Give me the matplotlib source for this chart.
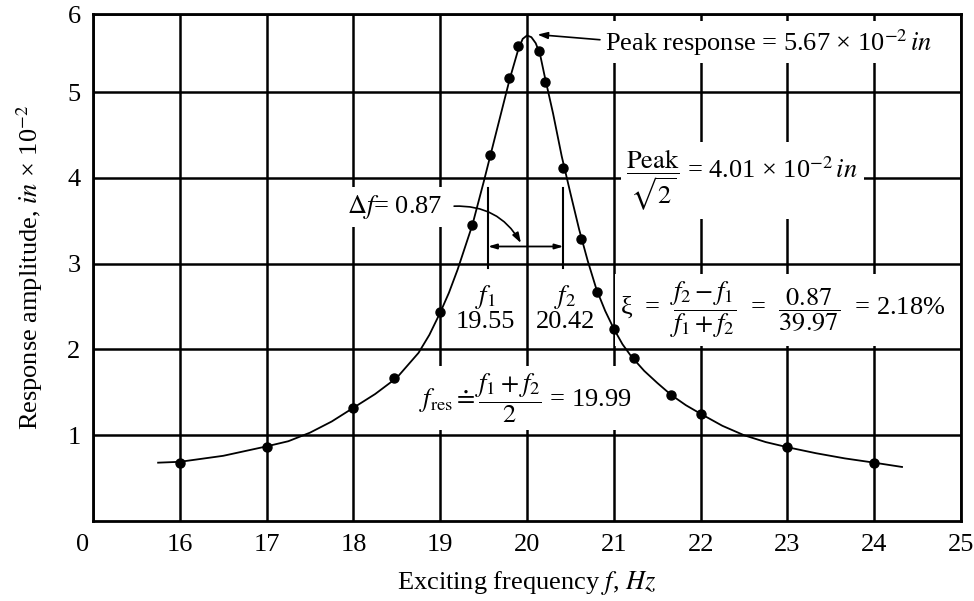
import matplotlib
matplotlib.use("Agg")
import matplotlib.pyplot as plt
from matplotlib.transforms import ScaledTranslation

plt.rcParams["font.family"] = ["Liberation Serif", "DejaVu Serif"]
plt.rcParams["mathtext.fontset"] = "stix"

# measured points (Hz, amplitude in 1e-2 in)
freq = [16.0, 17.0, 18.0, 18.47, 19.0, 19.37, 19.57, 19.79, 19.9, 20.14,
        20.21, 20.42, 20.62, 20.81, 21.0, 21.23, 21.66, 22.0, 23.0, 24.0]
amp = [0.68, 0.86, 1.32, 1.67, 2.44, 3.45, 4.27, 5.16, 5.54, 5.48,
       5.12, 4.11, 3.29, 2.67, 2.24, 1.90, 1.47, 1.25, 0.86, 0.68]

# hand-faired response curve through the points
curve_f = [15.75, 16.0, 16.5, 17.0, 17.25, 17.5, 17.75, 18.0, 18.25, 18.5,
           18.75, 18.875, 19.0, 19.1, 19.2, 19.37, 19.5, 19.6, 19.7, 19.8,
           19.9, 19.95, 20.0, 20.05, 20.1, 20.15, 20.2, 20.3, 20.4, 20.5,
           20.6, 20.7, 20.8, 20.9, 21.0, 21.1, 21.2, 21.35, 21.5, 21.66,
           21.83, 22.0, 22.25, 22.5, 22.75, 23.0, 23.33, 23.66, 24.0, 24.32]
curve_a = [0.68, 0.69, 0.76, 0.87, 0.93, 1.03, 1.16, 1.32, 1.48, 1.67,
           1.96, 2.17, 2.43, 2.66, 2.93, 3.45, 3.95, 4.35, 4.75, 5.15,
           5.5, 5.62, 5.66, 5.64, 5.57, 5.44, 5.2, 4.75, 4.25, 3.82,
           3.4, 3.03, 2.7, 2.45, 2.24, 2.06, 1.92, 1.75, 1.61, 1.47,
           1.35, 1.25, 1.11, 1.0, 0.92, 0.86, 0.79, 0.73, 0.68, 0.63]

f1, f2 = 19.55, 20.42

xticks = [15, 16, 17, 18, 19, 20, 21, 22, 23, 24, 25]
xlabels = ["0", "16", "17", "18", "19", "20", "21", "22", "23", "24", "25"]
yticks = [1, 2, 3, 4, 5, 5.91]
ylabels = ["1", "2", "3", "4", "5", "6"]

fs = 19

fig = plt.figure(figsize=(9.74, 6.01), dpi=100)
ax = fig.add_axes([0.0955, 0.1331, 0.8912, 0.8436])
ax.set_xlim(15, 25)
ax.set_ylim(0, 5.91)

ax.set_xticks(xticks)
ax.set_xticklabels(xlabels)
ax.set_yticks(yticks)
ax.set_yticklabels(ylabels)
ax.tick_params(length=0, labelsize=fs, pad=9)
# the broken-axis "0" sits a little left of the corner
lab0 = ax.get_xticklabels()[0]
lab0.set_transform(lab0.get_transform() + ScaledTranslation(-0.1, 0, fig.dpi_scale_trans))

ax.grid(True, color="black", lw=1.8)
ax.set_axisbelow(True)
for s in ax.spines.values():
    s.set_linewidth(2)

ax.set_xlabel("Exciting frequency $f$, $Hz$", fontsize=fs, labelpad=10)
ax.set_ylabel("Response amplitude, $in$ × 10$^{-2}$", fontsize=fs, labelpad=16)

ax.plot(curve_f, curve_a, color="black", lw=1.3, zorder=4)
ax.plot(freq, amp, "o", color="black", ms=6.5, zorder=5)

box = dict(facecolor="white", edgecolor="none", pad=4)

ax.text(20.90, 5.58, "Peak response = 5.67 × 10$^{-2}$$\\,in$", fontsize=fs,
        ha="left", va="center", bbox=box, zorder=3)
ax.annotate("", xy=(20.12, 5.67), xytext=(20.84, 5.61),
            arrowprops=dict(arrowstyle="-|>,head_length=0.6,head_width=0.2",
                            color="black", lw=1.2, shrinkA=0, shrinkB=0), zorder=6)

ax.text(22.48, 3.97, "$\\dfrac{\\mathrm{Peak}}{\\sqrt{2}}$ = 4.01 × 10$^{-2}$$\\,in$",
        fontsize=fs, ha="center", va="center", bbox=box, zorder=3)

ax.text(19.02, 3.66, "$\\Delta f$= 0.87", fontsize=fs, ha="right", va="center",
        bbox=box, zorder=3)
ax.annotate("", xy=(19.93, 3.24), xytext=(19.16, 3.67),
            arrowprops=dict(arrowstyle="-|>,head_length=0.6,head_width=0.2",
                            color="black", lw=1.2, shrinkA=0, shrinkB=0,
                            connectionstyle="arc3,rad=-0.3"), zorder=6)

# half-power bandwidth markers
ax.plot([f1, f1], [2.95, 3.88], color="black", lw=1.5, zorder=4)
ax.plot([f2, f2], [2.95, 3.88], color="black", lw=1.5, zorder=4)
ax.annotate("", xy=(f1, 3.2), xytext=(f2, 3.2),
            arrowprops=dict(arrowstyle="<|-|>,head_length=0.5,head_width=0.15",
                            color="black", lw=1.3, shrinkA=0, shrinkB=0), zorder=6)

ax.text(f1 - 0.03, 2.48, "$f_1$\n19.55", fontsize=fs, ha="center", va="center",
        linespacing=1.0, bbox=box, zorder=3)
ax.text(f2 + 0.02, 2.48, "$f_2$\n20.42", fontsize=fs, ha="center", va="center",
        linespacing=1.0, bbox=box, zorder=3)

ax.text(22.95, 2.46,
        "ξ  =  $\\dfrac{f_2 - f_1}{f_1 + f_2}$  =  $\\dfrac{0.87}{39.97}$  = 2.18%",
        fontsize=fs, ha="center", va="center", bbox=box, zorder=3)

ax.text(19.98, 1.43, "$f_{\\mathrm{res}} \\doteq \\dfrac{f_1 + f_2}{2}$ = 19.99",
        fontsize=fs, ha="center", va="center", bbox=box, zorder=3)

fig.savefig("out.png", dpi=100)
